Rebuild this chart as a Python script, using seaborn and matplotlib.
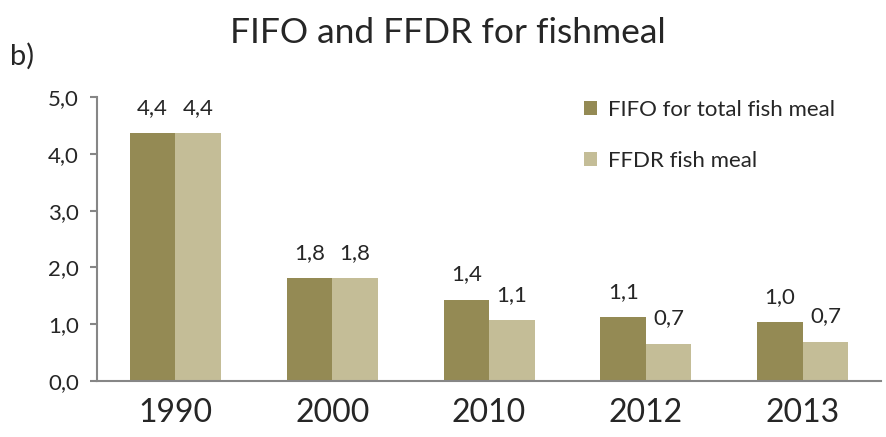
import pandas as pd
import numpy as np
import seaborn as sns
import matplotlib.pyplot as plt

# Данные
years = ["1990", "2000", "2010", "2012", "2013"]
fifo = [4.36, 1.81, 1.43, 1.12, 1.04]
ffdr = [4.36, 1.81, 1.07, 0.66, 0.69]
series_names = ["FIFO for total fish meal", "FFDR fish meal"]
colors = ["#948A54", "#C4BD97"]

df = pd.DataFrame({
    "year": years * 2,
    "value": fifo + ffdr,
    "series": [series_names[0]] * len(years) + [series_names[1]] * len(years),
})

sns.set_style("white")
plt.rcParams["font.family"] = ["Lato", "DejaVu Sans"]

fig = plt.figure(figsize=(8.86, 4.37), dpi=100)
ax = fig.add_axes([0.1095, 0.128, 0.885, 0.65])

sns.barplot(data=df, x="year", y="value", hue="series", palette=colors,
            width=0.58, saturation=1, ax=ax, edgecolor="none")

for cont in ax.containers:
    ax.bar_label(cont, labels=[f"{b.get_height():.1f}".replace(".", ",") for b in cont],
                 padding=11, fontsize=16)

ax.set_ylim(0, 5)
ax.set_xlim(-0.5, 4.5)
ax.set_yticks(np.arange(0, 5.1, 1))
ax.set_yticklabels([f"{v:.1f}".replace(".", ",") for v in np.arange(0, 5.1, 1)])
ax.set_xticks(range(len(years)), years)
ax.set_xticks(np.arange(-0.5, 5, 1), minor=True)
ax.tick_params(axis="x", which="major", length=0, labelsize=23, pad=12)
ax.tick_params(axis="x", which="minor", length=7, width=1.5, color="#868686", direction="out")
ax.tick_params(axis="y", length=5, width=1.5, color="#868686", direction="out",
               labelsize=16, left=True, pad=8)
ax.set_xlabel("")
ax.set_ylabel("")

sns.despine(ax=ax)
for s in ["left", "bottom"]:
    ax.spines[s].set_color("#868686")
    ax.spines[s].set_linewidth(1.5)

ax.legend(loc="upper left", bbox_to_anchor=(0.595, 1.06), frameon=False, fontsize=16,
          handlelength=0.6, handleheight=0.6, handletextpad=0.5, labelspacing=1.4)

fig.suptitle("FIFO and FFDR for fishmeal", fontsize=25.5, x=0.505, y=0.96)
fig.text(0.011, 0.852, "b)", fontsize=21)

plt.savefig("out.png", dpi=100)
